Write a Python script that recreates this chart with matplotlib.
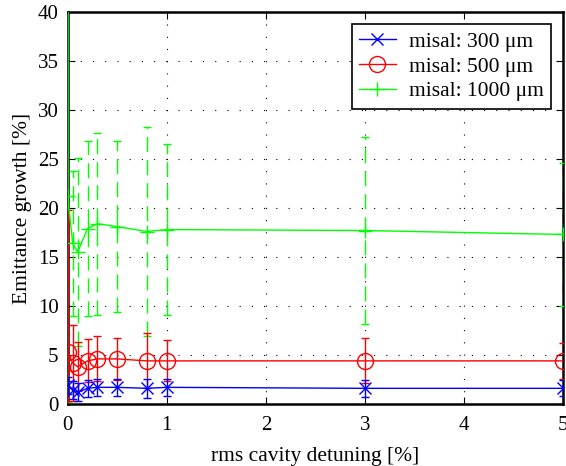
import matplotlib
matplotlib.use("Agg")
import matplotlib.pyplot as plt
import numpy as np

plt.rcParams['font.family'] = ['Liberation Serif', 'DejaVu Serif']
plt.rcParams['mathtext.fontset'] = 'stix'

detuning = [0, 0.05, 0.1, 0.2, 0.3, 0.5, 0.8, 1, 3, 5]

g300 = [1.9, 1.4, 1.2, 1.6, 1.7, 1.7, 1.6, 1.7, 1.6, 1.6]
e300 = [0.9, 0.9, 0.9, 0.9, 0.9, 0.9, 1.0, 0.9, 0.85, 0.8]

g500 = [5.3, 4.2, 3.8, 4.4, 4.6, 4.6, 4.4, 4.4, 4.4, 4.4]
e500 = [14.5, 3.9, 2.5, 2.2, 2.3, 2.1, 2.8, 2.1, 2.3, 1.8]

g1000 = [21.2, 16.4, 15.5, 17.9, 18.4, 18.1, 17.6, 17.8, 17.7, 17.3]
e1000 = [21.0, 7.4, 9.6, 8.9, 9.3, 8.7, 10.7, 8.7, 9.5, 7.3]

labels = ['misal: 300 \u03bcm', 'misal: 500 \u03bcm', 'misal: 1000 \u03bcm']
xticks = [0, 1, 2, 3, 4, 5]
yticks = [0, 5, 10, 15, 20, 25, 30, 35, 40]

fig = plt.figure(figsize=(5.66, 4.66), dpi=100)
ax = fig.add_axes([67.7/566, (466-404)/466, (563-67.7)/566, (404-12)/466])

G = '#00ff00'; R = '#ff0000'; B = '#0000ff'

# green
eb = ax.errorbar(detuning, g1000, yerr=e1000, fmt='none', ecolor=G, elinewidth=1,
                 capsize=3, capthick=1, zorder=2.6)
eb[2][0].set_linestyle((0, (10.8, 5.8)))
eb[2][0].set_linestyle('-')
eb[2][0].remove()
# draw green bars: solid at x=0 (overlapping axis), dashed elsewhere
ax.vlines(detuning[:1], [g1000[0] - e1000[0]], [g1000[0] + e1000[0]], colors=G,
          linewidth=1.2, zorder=2.6)
ax.vlines(detuning[1:], np.array(g1000[1:]) - np.array(e1000[1:]),
          np.array(g1000[1:]) + np.array(e1000[1:]), colors=G, linewidth=1,
          linestyles=[(0, (10.8, 5.8))], zorder=2.6)
l3, = ax.plot(detuning, g1000, color=G, marker='+', markersize=10, lw=1, mew=1, zorder=3)

# red
ax.errorbar(detuning, g500, yerr=e500, fmt='none', ecolor=R, elinewidth=1,
            capsize=3, capthick=1, zorder=2.7)
l2, = ax.plot(detuning, g500, color=R, marker='o', markersize=11.5, mfc='none',
              lw=1, mew=1, zorder=3)

# blue
ax.errorbar(detuning, g300, yerr=e300, fmt='none', ecolor=B, elinewidth=1,
            capsize=3, capthick=1, zorder=2.8)
l1, = ax.plot(detuning, g300, color=B, marker='x', markersize=9, lw=1, mew=1, zorder=3)

ax.set_xlim(0, 5)
ax.set_ylim(0, 40)
ax.set_xticks(xticks)
ax.set_yticks(yticks)
ax.tick_params(direction='in', top=True, right=True, labelsize=15, length=5, width=0.8)
ax.tick_params(axis='x', pad=9)
ax.tick_params(axis='y', pad=6.5)
ax.grid(True, color='black', linestyle=(0, (1, 10)), linewidth=0.8)
for s in ax.spines.values():
    s.set_linewidth(1.8)

ax.set_xlabel('rms cavity detuning [%]', fontsize=15.5, labelpad=8)
ax.set_ylabel('Emittance growth [%]', fontsize=15.5, labelpad=4)

leg = ax.legend([l1, l2, l3], labels, loc='upper right', fontsize=15.5,
                bbox_to_anchor=(0.976, 0.969), borderaxespad=0, fancybox=False,
                framealpha=1, edgecolor='black', handlelength=1.7, borderpad=0.35,
                labelspacing=0.22, handletextpad=0.6)
leg.set_zorder(5)
leg.get_frame().set_linewidth(1.2)

fig.savefig('out.png', dpi=100)
